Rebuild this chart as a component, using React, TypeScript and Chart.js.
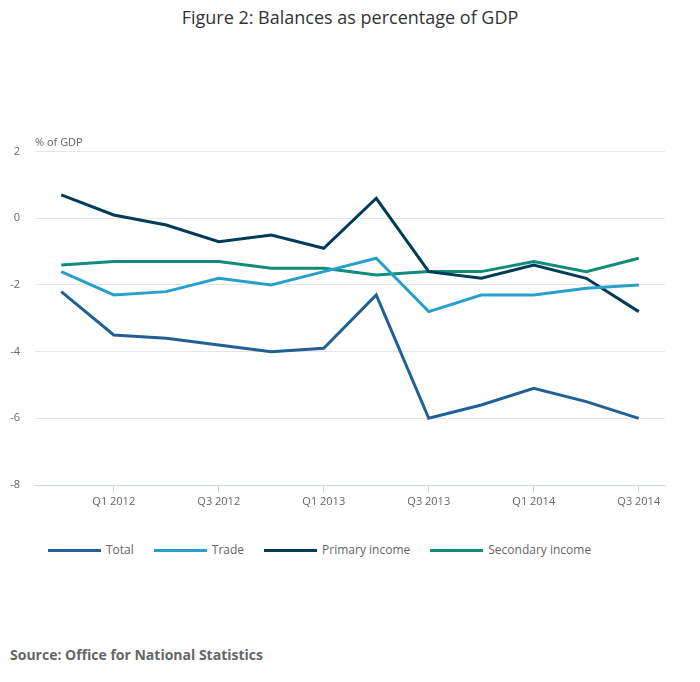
import { useEffect, useRef } from "react";
import { Chart, registerables } from "chart.js";

Chart.register(...registerables);

const quarters = [
  "Q4 2011",
  "Q1 2012",
  "Q2 2012",
  "Q3 2012",
  "Q4 2012",
  "Q1 2013",
  "Q2 2013",
  "Q3 2013",
  "Q4 2013",
  "Q1 2014",
  "Q2 2014",
  "Q3 2014",
];
const total = [-2.2, -3.5, -3.6, -3.8, -4.0, -3.9, -2.3, -6.0, -5.6, -5.1, -5.5, -6.0];
const trade = [-1.6, -2.3, -2.2, -1.8, -2.0, -1.6, -1.2, -2.8, -2.3, -2.3, -2.1, -2.0];
const primaryIncome = [0.7, 0.1, -0.2, -0.7, -0.5, -0.9, 0.6, -1.6, -1.8, -1.4, -1.8, -2.8];
const secondaryIncome = [-1.4, -1.3, -1.3, -1.3, -1.5, -1.5, -1.7, -1.6, -1.6, -1.3, -1.6, -1.2];

const series = [
  { label: "Total", data: total, color: "#206095" },
  { label: "Trade", data: trade, color: "#27a0cc" },
  { label: "Primary income", data: primaryIncome, color: "#003c57" },
  { label: "Secondary income", data: secondaryIncome, color: "#118c7b" },
];

const FONT = '"Open Sans", sans-serif';
const CANVAS_W = 700;
const CANVAS_H = 390;

export default function App() {
  const ref = useRef<HTMLCanvasElement>(null);

  useEffect(() => {
    if (!ref.current) return;
    const chart = new Chart(ref.current, {
      type: "line",
      data: {
        labels: quarters,
        datasets: series.map((s) => ({
          label: s.label,
          data: s.data,
          borderColor: s.color,
          backgroundColor: s.color,
          borderWidth: 3,
          pointRadius: 0,
          tension: 0,
        })),
      },
      options: {
        responsive: false,
        maintainAspectRatio: false,
        animation: false,
        layout: { padding: { top: 0, right: 35, left: 0, bottom: 0 } },
        plugins: {
          legend: { display: false },
          title: { display: false },
          tooltip: { enabled: false },
        },
        scales: {
          x: {
            offset: true,
            afterFit: (scale: any) => {
              scale.height = 35;
            },
            border: { color: "#ccd6eb", width: 1 },
            grid: {
              drawOnChartArea: false,
              tickLength: 8,
              tickColor: (ctx: any) =>
                ctx.index % 2 === 1 ? "#ccd6eb" : "rgba(0,0,0,0)",
            },
            ticks: {
              autoSkip: false,
              maxRotation: 0,
              padding: 2,
              color: "#666",
              font: { family: FONT, size: 11 },
              callback: (_v: any, i: number) => (i % 2 === 1 ? quarters[i] : ""),
            },
          },
          y: {
            min: -8,
            max: 2,
            afterFit: (scale: any) => {
              scale.width = 35;
            },
            border: { display: false },
            grid: { color: "#e6e6e6", drawTicks: false },
            ticks: {
              stepSize: 2,
              padding: 15,
              color: "#666",
              font: { family: FONT, size: 11 },
            },
          },
        },
      },
    });
    return () => chart.destroy();
  }, []);

  return (
    <div
      style={{
        position: "absolute",
        top: 0,
        left: 0,
        width: 700,
        height: 682,
        background: "#fff",
        fontFamily: FONT,
      }}
    >
      <div
        style={{
          position: "absolute",
          top: 5,
          left: 0,
          width: 700,
          textAlign: "center",
          fontSize: 18,
          lineHeight: "24px",
          color: "#333",
        }}
      >
        Figure 2: Balances as percentage of GDP
      </div>
      <canvas
        ref={ref}
        width={CANVAS_W}
        height={CANVAS_H}
        style={{
          position: "absolute",
          top: 130,
          left: 0,
          width: CANVAS_W,
          height: CANVAS_H,
        }}
      />
      <div
        style={{
          position: "absolute",
          top: 134,
          left: 35,
          fontSize: 11,
          lineHeight: "16px",
          color: "#666",
        }}
      >
        % of GDP
      </div>
      <div
        style={{
          position: "absolute",
          top: 542,
          left: 48,
          display: "flex",
          alignItems: "center",
          gap: 20,
          fontSize: 12,
          lineHeight: "16px",
          color: "#666",
        }}
      >
        {series.map((s) => (
          <div key={s.label} style={{ display: "flex", alignItems: "center" }}>
            <span
              style={{
                display: "inline-block",
                width: 53,
                height: 3,
                background: s.color,
                marginRight: 5,
              }}
            />
            <span>{s.label}</span>
          </div>
        ))}
      </div>
      <div
        style={{
          position: "absolute",
          top: 645,
          left: 10,
          fontSize: 14,
          lineHeight: "20px",
          fontWeight: "bold",
          color: "#666",
        }}
      >
        Source: Office for National Statistics
      </div>
    </div>
  );
}
